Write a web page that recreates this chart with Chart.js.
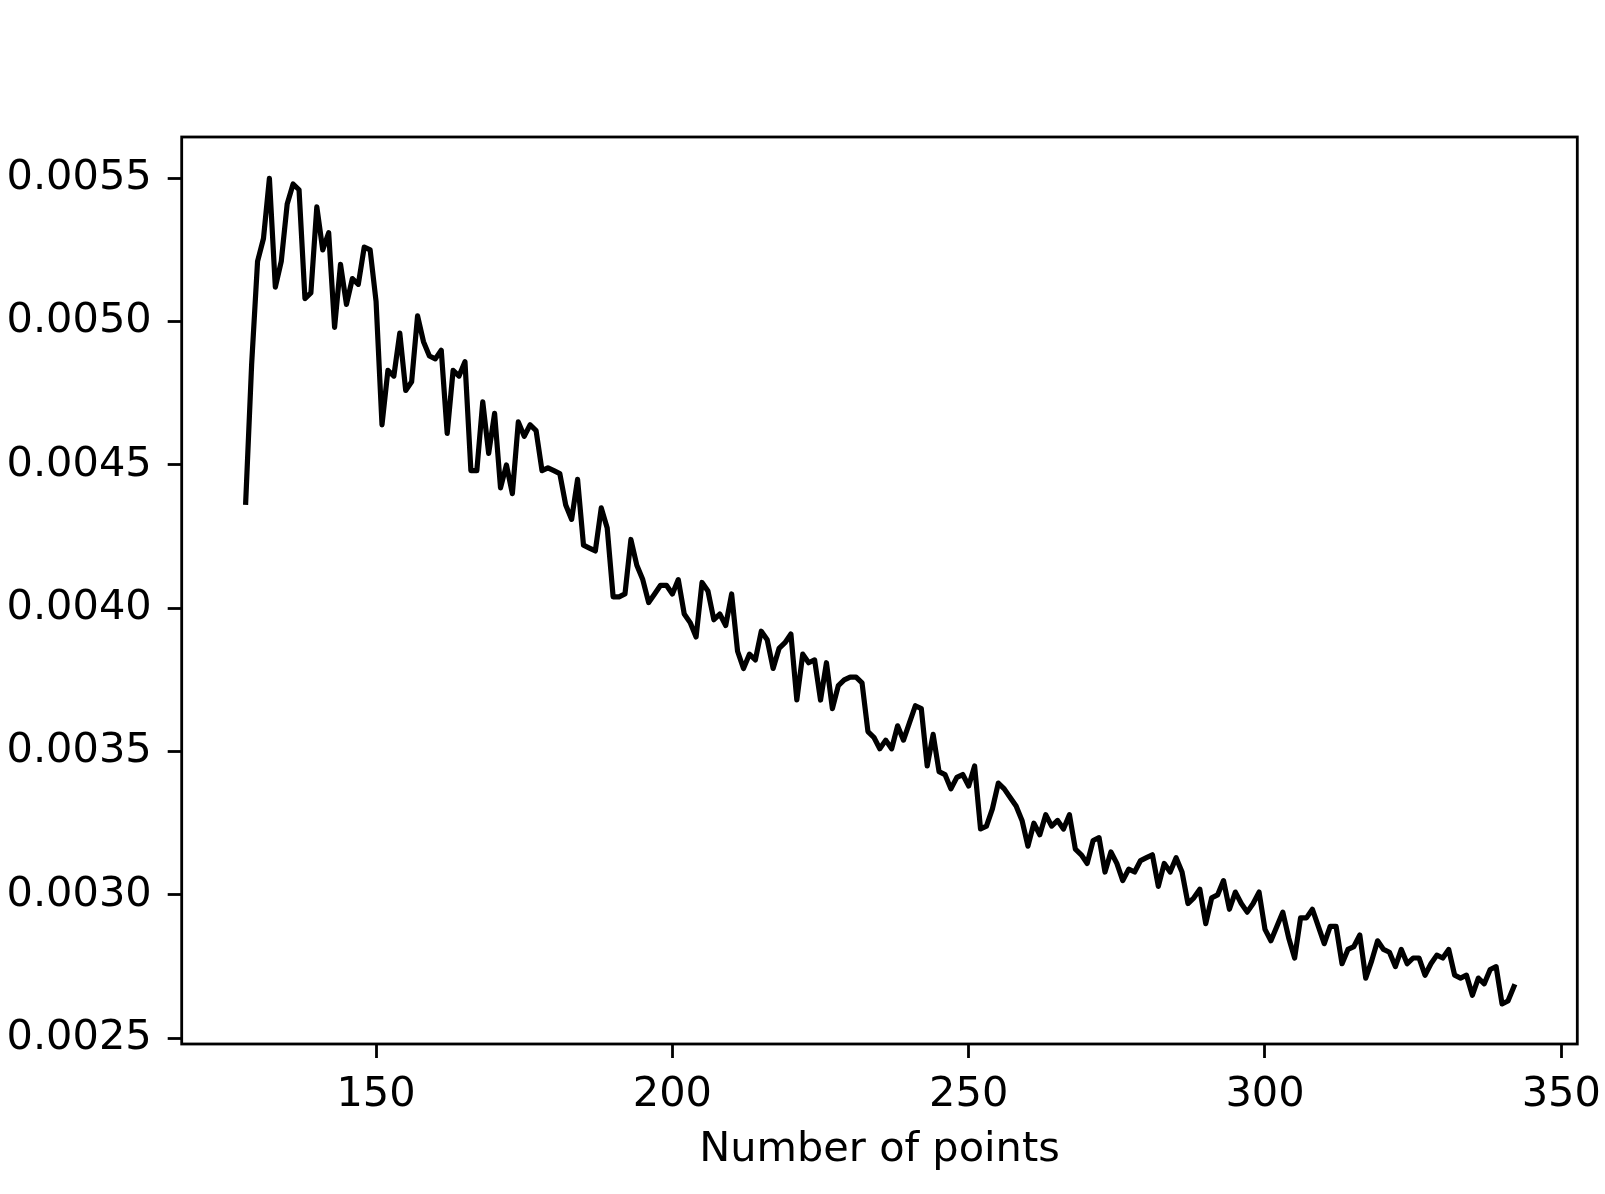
<!DOCTYPE html>
<html>
<head>
<meta charset="utf-8">
<script src="https://cdn.jsdelivr.net/npm/chart.js@4.4.1/dist/chart.umd.min.js"></script>
<style>
body{margin:0;background:#fff;}
#wrap{width:1605px;height:1194px;}
</style>
</head>
<body>
<div id="wrap"><canvas id="myChart" width="1605" height="1194"></canvas></div>
<script>
// number of points (x) and the error value at each one (y)
const xValues=[
128,129,130,131,132,133,134,135,136,137,
138,139,140,141,142,143,144,145,146,147,
148,149,150,151,152,153,154,155,156,157,
158,159,160,161,162,163,164,165,166,167,
168,169,170,171,172,173,174,175,176,177,
178,179,180,181,182,183,184,185,186,187,
188,189,190,191,192,193,194,195,196,197,
198,199,200,201,202,203,204,205,206,207,
208,209,210,211,212,213,214,215,216,217,
218,219,220,221,222,223,224,225,226,227,
228,229,230,231,232,233,234,235,236,237,
238,239,240,241,242,243,244,245,246,247,
248,249,250,251,252,253,254,255,256,257,
258,259,260,261,262,263,264,265,266,267,
268,269,270,271,272,273,274,275,276,277,
278,279,280,281,282,283,284,285,286,287,
288,289,290,291,292,293,294,295,296,297,
298,299,300,301,302,303,304,305,306,307,
308,309,310,311,312,313,314,315,316,317,
318,319,320,321,322,323,324,325,326,327,
328,329,330,331,332,333,334,335,336,337,
338,339,340,341,342];
const yValues=[
0.00437,0.00485,0.00521,0.00529,0.00550,0.00512,0.00521,0.00541,0.00548,0.00546,
0.00508,0.00510,0.00540,0.00525,0.00531,0.00498,0.00520,0.00506,0.00515,0.00513,
0.00526,0.00525,0.00507,0.00464,0.00483,0.00481,0.00496,0.00476,0.00479,0.00502,
0.00493,0.00488,0.00487,0.00490,0.00461,0.00483,0.00481,0.00486,0.00448,0.00448,
0.00472,0.00454,0.00468,0.00442,0.00450,0.00440,0.00465,0.00460,0.00464,0.00462,
0.00448,0.00449,0.00448,0.00447,0.00436,0.00431,0.00445,0.00422,0.00421,0.00420,
0.00435,0.00428,0.00404,0.00404,0.00405,0.00424,0.00415,0.00410,0.00402,0.00405,
0.00408,0.00408,0.00405,0.00410,0.00398,0.00395,0.00390,0.00409,0.00406,0.00396,
0.00398,0.00394,0.00405,0.00385,0.00379,0.00384,0.00382,0.00392,0.00389,0.00379,
0.00386,0.00388,0.00391,0.00368,0.00384,0.00381,0.00382,0.00368,0.00381,0.00365,
0.00373,0.00375,0.00376,0.00376,0.00374,0.00357,0.00355,0.00351,0.00354,0.00351,
0.00359,0.00354,0.00360,0.00366,0.00365,0.00345,0.00356,0.00343,0.00342,0.00337,
0.00341,0.00342,0.00338,0.00345,0.00323,0.00324,0.00330,0.00339,0.00337,0.00334,
0.00331,0.00326,0.00317,0.00325,0.00321,0.00328,0.00324,0.00326,0.00323,0.00328,
0.00316,0.00314,0.00311,0.00319,0.00320,0.00308,0.00315,0.00311,0.00305,0.00309,
0.00308,0.00312,0.00313,0.00314,0.00303,0.00311,0.00308,0.00313,0.00308,0.00297,
0.00299,0.00302,0.00290,0.00299,0.00300,0.00305,0.00295,0.00301,0.00297,0.00294,
0.00297,0.00301,0.00288,0.00284,0.00289,0.00294,0.00285,0.00278,0.00292,0.00292,
0.00295,0.00289,0.00283,0.00289,0.00289,0.00276,0.00281,0.00282,0.00286,0.00271,
0.00277,0.00284,0.00281,0.00280,0.00275,0.00281,0.00276,0.00278,0.00278,0.00272,
0.00276,0.00279,0.00278,0.00281,0.00272,0.00271,0.00272,0.00265,0.00271,0.00269,
0.00274,0.00275,0.00262,0.00263,0.00268];
const xTicks=[150,200,250,300,350];
const yTicks=[0.0025,0.0030,0.0035,0.0040,0.0045,0.0050,0.0055];

const fontFamily="'DejaVu Sans', sans-serif";

// matplotlib style box round the plot
const framePlugin={
    id:"frame",
    afterDatasetsDraw(chart){
        const {ctx,chartArea:a}=chart;
        ctx.save();
        ctx.strokeStyle="#000";
        ctx.lineWidth=2.8;
        ctx.strokeRect(a.left,a.top,a.right-a.left,a.bottom-a.top);
        ctx.restore();
    }
};

const ctx=document.getElementById("myChart");
const myChart=new Chart(ctx,{
    type:"line",
    data:{
        datasets:[{
            data:xValues.map((x,i)=>({x:x,y:yValues[i]})),
            borderColor:"#000",
            borderWidth:5.2,
            pointRadius:0,
            tension:0,
            fill:false,
            borderJoinStyle:"round",
            borderCapStyle:"square"
        }]
    },
    options:{
        responsive:false,
        animation:false,
        devicePixelRatio:1,
        layout:{padding:{left:0,top:137,right:27.7,bottom:0}},
        plugins:{legend:{display:false},tooltip:{enabled:false}},
        scales:{
            x:{
                type:"linear",
                min:117.2,
                max:352.7,
                afterBuildTicks:s=>{s.ticks=xTicks.map(v=>({value:v}));},
                afterFit:s=>{s.height=150;s.paddingLeft=0;s.paddingRight=0;},
                border:{display:false},
                grid:{drawOnChartArea:false,drawTicks:true,tickLength:14,tickColor:"#000",tickWidth:2.8},
                ticks:{color:"#000",font:{family:fontFamily,size:41.5},padding:12,maxRotation:0,callback:v=>String(v)},
                title:{display:true,text:"Number of points",color:"#000",font:{family:fontFamily,size:41.5},padding:{top:0,bottom:19}}
            },
            y:{
                type:"linear",
                min:0.00248,
                max:0.005644,
                afterBuildTicks:s=>{s.ticks=yTicks.map(v=>({value:v}));},
                afterFit:s=>{s.width=181.7;s.paddingTop=0;s.paddingBottom=0;},
                border:{display:false},
                grid:{drawOnChartArea:false,drawTicks:true,tickLength:14,tickColor:"#000",tickWidth:2.8},
                ticks:{color:"#000",font:{family:fontFamily,size:41.5},padding:16,callback:v=>v.toFixed(4)}
            }
        }
    },
    plugins:[framePlugin]
});
</script>
</body>
</html>
